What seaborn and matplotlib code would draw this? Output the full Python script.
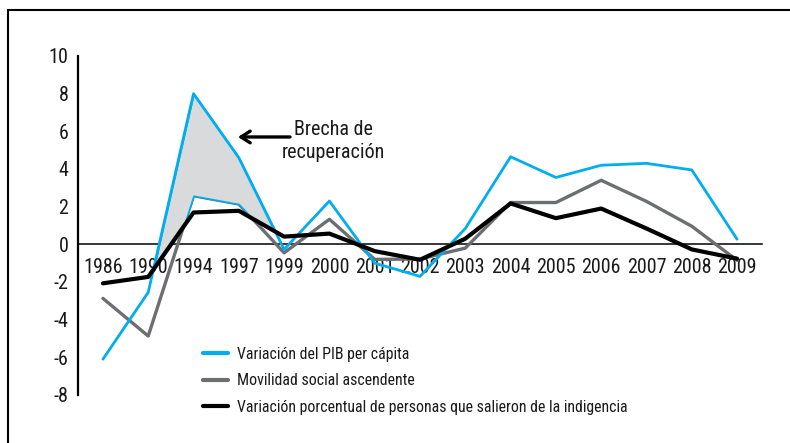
import numpy as np
import pandas as pd
import matplotlib
matplotlib.use("Agg")
import matplotlib.pyplot as plt
from matplotlib.lines import Line2D
import seaborn as sns

years = ["1986", "1990", "1994", "1997", "1999", "2000", "2001", "2002",
         "2003", "2004", "2005", "2006", "2007", "2008", "2009"]
pib = [-6.1, -2.55, 8.0, 4.6, -0.27, 2.3, -1.0, -1.7, 0.84, 4.65, 3.55, 4.2, 4.3, 3.95, 0.27]
movilidad = [-2.87, -4.87, 2.58, 2.14, -0.45, 1.33, -0.8, -0.78, -0.2, 2.22, 2.22, 3.4, 2.28, 0.96, -0.85]
indigencia = [-2.07, -1.73, 1.69, 1.78, 0.41, 0.57, -0.36, -0.82, 0.3, 2.17, 1.39, 1.9, 0.84, -0.27, -0.76]
y_ticks = [-8, -6, -4, -2, 0, 2, 4, 6, 8, 10]
labels = ["Variación del PIB per cápita",
          "Movilidad social ascendente",
          "Variación porcentual de personas que salieron de la indigencia"]
annot_text = "Brecha de\nrecuperación"

BLUE = "#00aeef"
GRAY = "#6d6e71"
BLACK = "#000000"
FILL = "#d9dadc"

sns.set_theme(style="white")
plt.rcParams["font.family"] = ["Roboto Condensed", "DejaVu Sans"]
plt.rcParams["axes.unicode_minus"] = False

idx = np.arange(len(years))
df = pd.DataFrame({"idx": idx, "pib": pib, "mov": movilidad, "ind": indigencia})

fig = plt.figure(figsize=(7.9, 4.43), dpi=100)
ax = fig.add_axes([78 / 790, 1 - 395 / 443, (762 - 78) / 790, (395 - 56) / 443])

# shaded "brecha" between GDP line and the lower of the other lines
xs = np.linspace(1, 4, 1201)
ub = np.interp(xs, idx, pib)
lb = np.maximum(np.interp(xs, idx, movilidad), np.interp(xs, idx, indigencia))

sns.lineplot(data=df, x="idx", y="pib", ax=ax, color=BLUE, lw=2.0, label=labels[0], zorder=4)
sns.lineplot(data=df, x="idx", y="mov", ax=ax, color=GRAY, lw=2.4, label=labels[1], zorder=3)
ax.fill_between(xs, ub, lb, where=ub > lb, interpolate=True, facecolor=FILL,
                edgecolor=BLUE, lw=1.2, zorder=3.5)
sns.lineplot(data=df, x="idx", y="ind", ax=ax, color=BLACK, lw=3.0, label=labels[2], zorder=5)

ax.set_xlim(-0.55, 14.55)
ax.set_ylim(-8, 10)
ax.set_xticks(idx)
ax.set_xticklabels(years)
ax.set_yticks(y_ticks)
ax.set_yticklabels([str(v) for v in y_ticks])
ax.set_xlabel("")
ax.set_ylabel("")

for s in ["top", "right"]:
    ax.spines[s].set_visible(False)
ax.spines["bottom"].set_position(("data", 0))
ax.spines["bottom"].set_color("black")
ax.spines["bottom"].set_linewidth(1.1)
ax.spines["left"].set_color("black")
ax.spines["left"].set_linewidth(1.6)
ax.tick_params(axis="x", length=0, pad=10, labelsize=14.5, colors="#1a1a1a")
ax.tick_params(axis="y", length=0, pad=7, labelsize=14.5, colors="#1a1a1a")
ax.set_facecolor("none")

# annotation
ax.text(5.08, 5.49, annot_text, ha="center", va="center", fontsize=14.5, color="#1a1a1a",
        linespacing=1.3)
ax.annotate("", xy=(2.98, 5.7), xytext=(4.13, 5.7),
            arrowprops=dict(arrowstyle="->,head_length=0.55,head_width=0.35",
                            lw=2.4, color="black", shrinkA=0, shrinkB=0))

leg = ax.legend(loc="upper left", bbox_to_anchor=(203 / 790, 1 - 347 / 443),
                bbox_transform=fig.transFigure, frameon=False, fontsize=11.4,
                handlelength=1.6, handletextpad=0.55, labelspacing=0.72,
                borderpad=0, borderaxespad=0)
for h, c in zip(leg.legend_handles, [BLUE, GRAY, BLACK]):
    h.set_linewidth(3)
    h.set_color(c)
for t in leg.get_texts():
    t.set_color("#1a1a1a")

# outer frame (top and left only)
fig.add_artist(Line2D([8 / 790, 8 / 790], [0, 1 - 10 / 443], transform=fig.transFigure,
                      color="black", lw=1.5))
fig.add_artist(Line2D([8 / 790, 1], [1 - 10 / 443, 1 - 10 / 443], transform=fig.transFigure,
                      color="black", lw=1.5))

fig.savefig("out.png", dpi=100)
